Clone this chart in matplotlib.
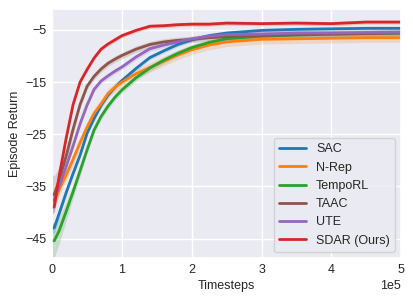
import matplotlib
matplotlib.use("Agg")
import matplotlib.pyplot as plt
import numpy as np
import seaborn as sns

# timesteps in units of 1e5
steps = [0, 0.03, 0.1, 0.2, 0.3, 0.4, 0.5, 0.6, 0.7, 0.8, 0.9, 1.0, 1.2, 1.4,
         1.6, 1.8, 2.0, 2.25, 2.5, 3.0, 3.5, 4.0, 4.5, 5.0]

sac = [-43.0, -42.9, -40.2, -36.2, -32.5, -29.0, -24.8, -22.0, -19.5, -17.5, -16.0, -14.7,
       -12.4, -10.3, -9.0, -7.8, -6.9, -6.1, -5.6, -5.1, -4.9, -4.8, -4.7, -4.7]
nrep = [-37.8, -37.7, -35.6, -32.8, -29.8, -26.6, -23.6, -21.0, -19.2, -17.2, -16.0, -15.0,
        -13.4, -12.2, -11.0, -9.8, -8.8, -7.9, -7.3, -6.8, -6.7, -6.6, -6.5, -6.5]
temporl = [-45.4, -45.4, -43.5, -39.8, -36.0, -32.0, -28.0, -24.2, -21.6, -19.6, -17.9, -16.5,
           -14.2, -12.3, -10.8, -9.5, -8.4, -7.4, -6.7, -6.2, -6.0, -5.8, -5.7, -5.6]
taac = [-36.6, -36.5, -33.8, -29.2, -24.0, -19.3, -15.8, -13.9, -12.5, -11.4, -10.6, -9.9,
        -8.7, -7.8, -7.3, -7.0, -6.8, -6.5, -6.3, -6.1, -5.9, -5.8, -5.7, -5.6]
ute = [-37.6, -37.5, -35.0, -31.2, -27.2, -23.0, -19.4, -16.4, -14.8, -13.8, -12.9, -12.1,
       -10.2, -8.6, -7.9, -7.3, -6.7, -6.2, -5.9, -5.8, -5.6, -5.6, -5.5, -5.45]
sdar = [-39.0, -38.9, -33.0, -25.8, -19.3, -15.0, -12.6, -10.4, -8.7, -7.7, -6.9, -6.1,
        -5.1, -4.3, -4.2, -4.0, -3.9, -3.9, -3.7, -3.8, -3.7, -3.8, -3.5, -3.5]

# spread of the shaded bands
sac_sd = [1.0, 1.0, 0.8, 0.6, 0.5] + [0.4] * 19
nrep_sd = [1.5, 1.4, 1.2, 1.0, 1.0] + [0.9] * 19
temporl_sd = [3.3, 3.2, 2.5, 1.8, 1.3, 1.0] + [0.6] * 18
taac_sd = [3.8, 3.5, 2.5, 1.5, 1.0] + [0.6] * 19
ute_sd = [1.5, 1.4, 1.0, 0.7, 0.6] + [0.5] * 19
sdar_sd = [1.0, 1.0, 0.8, 0.6, 0.5] + [0.4] * 19

labels = ["SAC", "N-Rep", "TempoRL", "TAAC", "UTE", "SDAR (Ours)"]
series = [sac, nrep, temporl, taac, ute, sdar]
spreads = [sac_sd, nrep_sd, temporl_sd, taac_sd, ute_sd, sdar_sd]
colors = ["#1f77b4", "#ff7f0e", "#2ca02c", "#8c564b", "#9467bd", "#d62728"]

sns.set_theme(style="darkgrid")
plt.rcParams["font.family"] = ["Liberation Sans", "DejaVu Sans"]
plt.rcParams["xtick.major.size"] = 0
plt.rcParams["ytick.major.size"] = 0
plt.rcParams["xtick.major.pad"] = 4
plt.rcParams["ytick.major.pad"] = 4

fig = plt.figure(figsize=(4.14, 3.01), dpi=100)
ax = fig.add_axes([0.126, 0.143, 0.843, 0.827])

x = np.array(steps) * 1e5
for lab, y, sd, c in zip(labels, series, spreads, colors):
    y = np.array(y)
    sd = np.array(sd)
    ax.fill_between(x, y - sd, y + sd, color=c, alpha=0.2, linewidth=0)
    ax.plot(x, y, color=c, lw=2.0, label=lab)

ax.set_xlim(0, 5e5)
ax.set_ylim(-48.7, -1)
ax.set_yticks([-45, -35, -25, -15, -5])
ax.set_xticks([0, 1e5, 2e5, 3e5, 4e5, 5e5])
ax.ticklabel_format(axis="x", style="sci", scilimits=(0, 0))
ax.tick_params(labelsize=9)
ax.xaxis.get_offset_text().set_fontsize(9)
ax.set_xlabel("Timesteps", fontsize=9, labelpad=3)
ax.set_ylabel("Episode Return", fontsize=9, labelpad=3)
ax.legend(loc="lower right", fontsize=9, handlelength=2.2)

fig.savefig("out.png", dpi=100)
plt.close(fig)
